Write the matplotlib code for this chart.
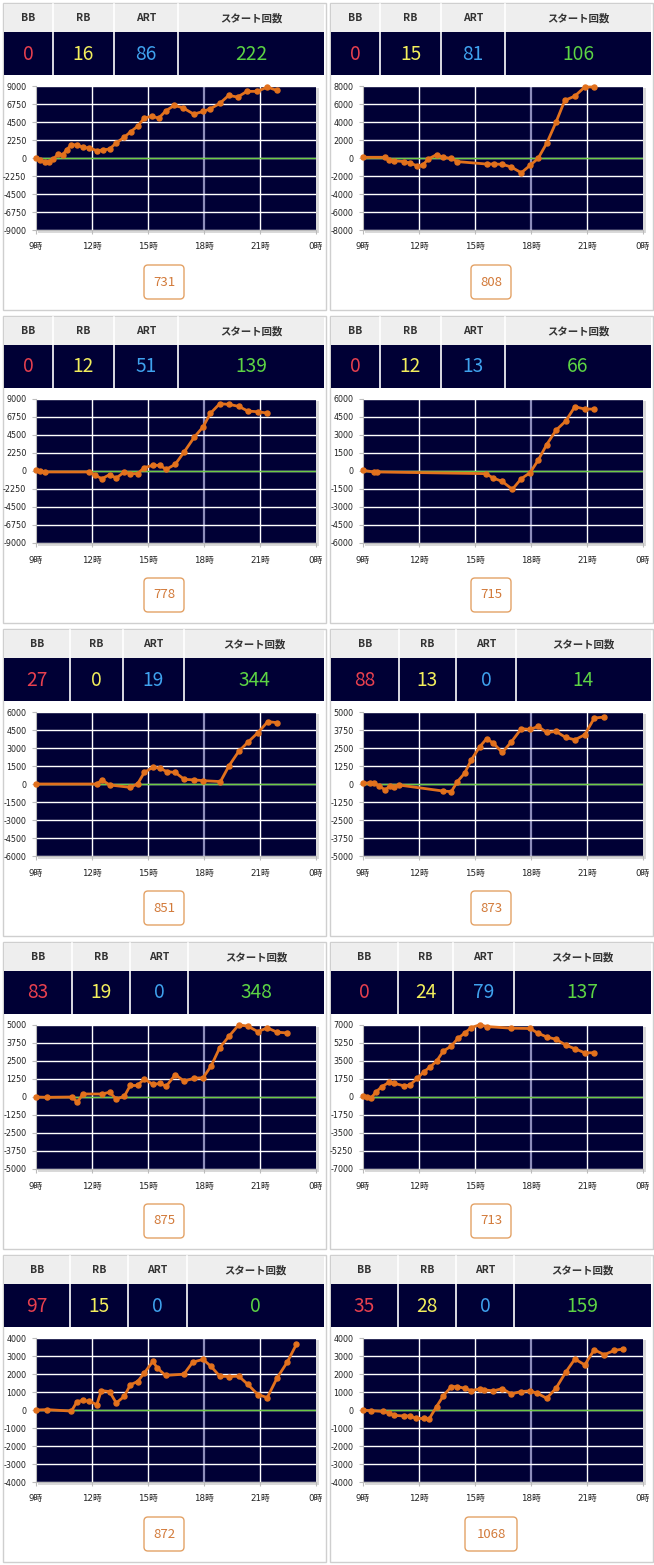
import matplotlib.pyplot as plt
from matplotlib.patches import Rectangle, FancyBboxPatch
import numpy as np

plt.rcParams['font.family'] = ['DejaVu Sans', 'Noto Sans CJK JP']

# header numbers per machine
bb = [0, 0, 0, 0, 27, 88, 83, 0, 97, 35]
rb = [16, 15, 12, 12, 0, 13, 19, 24, 15, 28]
art = [86, 81, 51, 13, 19, 0, 0, 79, 0, 0]
starts = [222, 106, 139, 66, 344, 14, 348, 137, 0, 159]
machine_no = [731, 808, 778, 715, 851, 873, 875, 713, 872, 1068]
y_max = [9000, 8000, 9000, 6000, 6000, 5000, 5000, 7000, 4000, 4000]

# difference graphs: hour of day / coins
hours_1 = [9.0, 9.2, 9.5, 9.7, 9.93, 10.2, 10.43, 10.65, 10.9, 11.2, 11.5, 11.86, 12.26, 12.58,
           12.94, 13.3, 13.73, 14.08, 14.44, 14.8, 15.2, 15.57, 15.96, 16.4, 16.87, 17.45, 17.95,
           18.34, 18.84, 19.32, 19.8, 20.3, 20.85, 21.4, 21.9]
diff_1 = [0, -300, -550, -450, -100, 500, 400, 1050, 1670, 1630, 1340, 1250, 920, 1000,
          1130, 1880, 2600, 3300, 3970, 4980, 5230, 4980, 5900, 6570, 6280, 5480, 5820,
          6150, 6820, 7820, 7620, 8330, 8330, 8870, 8450]

hours_2 = [9.0, 10.2, 10.38, 10.65, 11.2, 11.5, 11.9, 12.2, 12.5, 12.94, 13.3, 13.73, 14.05,
           15.62, 16.0, 16.46, 16.94, 17.48, 17.95, 18.38, 18.85, 19.34, 19.81, 20.35, 20.88, 21.39]
diff_2 = [80, 80, -220, -300, -400, -560, -860, -780, -110, 370, 80, -40, -400,
          -670, -670, -700, -1000, -1640, -820, -40, 1670, 3980, 6400, 6880, 7890, 7890]

hours_3 = [9.0, 9.2, 9.48, 11.86, 12.17, 12.53, 12.94, 13.3, 13.73, 14.05, 14.44, 14.8, 15.26,
           15.62, 15.98, 16.46, 16.94, 17.48, 17.95, 18.34, 18.84, 19.34, 19.86, 20.35, 20.88, 21.39]
diff_3 = [80, -40, -120, -120, -540, -960, -460, -880, -120, -330, -330, 420, 710,
          710, 210, 840, 2390, 4230, 5520, 7200, 8410, 8330, 8080, 7490, 7410, 7240]

hours_4 = [9.0, 9.57, 9.75, 15.57, 15.98, 16.46, 17.0, 17.48, 17.95, 18.38, 18.84, 19.34,
           19.86, 20.35, 20.88, 21.39]
diff_4 = [60, -80, -80, -220, -590, -870, -1530, -640, -140, 890, 2200, 3400,
          4160, 5360, 5160, 5160]

hours_5 = [9.0, 12.26, 12.53, 12.94, 14.05, 14.44, 14.8, 15.26, 15.62, 16.0, 16.46, 16.94,
           17.48, 17.95, 18.88, 19.34, 19.86, 20.35, 20.88, 21.42, 21.92]
diff_5 = [0, 0, 340, -80, -280, 0, 960, 1400, 1320, 1040, 960, 390,
          340, 280, 200, 1520, 2720, 3480, 4270, 5200, 5110]

hours_6 = [9.0, 9.39, 9.6, 9.84, 10.2, 10.43, 10.65, 10.92, 13.3, 13.73, 14.05, 14.44, 14.8,
           15.26, 15.62, 15.98, 16.46, 16.94, 17.48, 17.95, 18.38, 18.84, 19.34, 19.86, 20.35,
           20.88, 21.39, 21.92]
diff_6 = [50, 90, 50, -120, -420, -120, -190, -70, -490, -530, 160, 740, 1670,
          2600, 3140, 2840, 2190, 2910, 3840, 3790, 4000, 3580, 3650, 3230, 3070,
          3420, 4580, 4650]

hours_7 = [9.0, 9.6, 10.92, 11.22, 11.5, 12.53, 12.94, 13.3, 13.73, 14.05, 14.44, 14.8, 15.26,
           15.62, 15.98, 16.46, 16.94, 17.48, 17.95, 18.38, 18.84, 19.34, 19.86, 20.35, 20.88,
           21.39, 21.92, 22.46]
diff_7 = [0, -20, 0, -370, 210, 210, 330, -140, 50, 800, 800, 1260, 870,
          940, 750, 1550, 1100, 1310, 1330, 2150, 3420, 4220, 5010, 4920, 4540,
          4800, 4500, 4450]

hours_8 = [9.0, 9.2, 9.43, 9.71, 10.02, 10.38, 10.65, 11.2, 11.5, 11.9, 12.26, 12.58, 12.94,
           13.3, 13.73, 14.08, 14.44, 14.8, 15.26, 15.62, 16.94, 17.95, 18.38, 18.84, 19.34,
           19.86, 20.35, 20.88, 21.39]
diff_8 = [100, 30, -100, 520, 1020, 1410, 1340, 1080, 1150, 1800, 2460, 2890, 3480,
          4460, 4950, 5700, 6200, 6750, 7020, 6850, 6690, 6660, 6200, 5840, 5610,
          5050, 4690, 4300, 4300]

hours_9 = [9.0, 9.6, 10.9, 11.2, 11.5, 11.86, 12.26, 12.5, 12.94, 13.3, 13.73, 14.05, 14.44,
           14.8, 15.26, 15.5, 15.94, 16.92, 17.4, 17.95, 18.38, 18.84, 19.34, 19.86, 20.35,
           20.88, 21.39, 21.92, 22.46, 22.95]
diff_9 = [0, 20, -60, 470, 530, 480, 300, 1080, 1020, 390, 760, 1400, 1580,
          2050, 2700, 2330, 1920, 1990, 2660, 2810, 2420, 1880, 1860, 1880, 1420,
          860, 690, 1790, 2660, 3650]

hours_10 = [9.0, 9.43, 10.05, 10.38, 10.65, 11.2, 11.5, 11.86, 12.26, 12.53, 12.94, 13.3, 13.73,
            14.05, 14.44, 14.8, 15.26, 15.5, 15.98, 16.46, 16.94, 17.44, 17.95, 18.34, 18.84,
            19.34, 19.86, 20.35, 20.88, 21.39, 21.92, 22.46, 22.95]
diff_10 = [0, -40, -80, -150, -300, -330, -330, -470, -470, -520, 190, 780, 1300,
           1300, 1210, 1080, 1170, 1120, 1060, 1190, 890, 1020, 1060, 930, 650,
           1210, 2100, 2830, 2510, 3350, 3070, 3310, 3390]

hours = [hours_1, hours_2, hours_3, hours_4, hours_5, hours_6, hours_7, hours_8, hours_9, hours_10]
diffs = [diff_1, diff_2, diff_3, diff_4, diff_5, diff_6, diff_7, diff_8, diff_9, diff_10]

x_ticks = [9, 12, 15, 18, 21, 24]
x_labels = ['9時', '12時', '15時', '18時', '21時', '0時']
col_names = ['BB', 'RB', 'ART', 'スタート回数']
value_colors = ['#e8404f', '#f2ee5c', '#3fa2ee', '#5cd444']

# column dividers (panel-local pixels) for each header table
col_edges = [[4, 53, 114, 178, 324], [4, 53, 114, 178, 324],
             [4, 53, 114, 178, 324], [4, 53, 114, 178, 324],
             [4, 70, 123, 184, 324], [4, 72, 129, 189, 324],
             [4, 72, 130, 188, 324], [4, 71, 126, 187, 324],
             [4, 70, 128, 187, 324], [4, 71, 129, 187, 324]]

W, H = 654, 1565
NAVY = '#000035'
cjk = ['Noto Sans CJK JP', 'DejaVu Sans']

fig = plt.figure(figsize=(W / 100, H / 100), dpi=100)
bg = fig.add_axes([0, 0, 1, 1])
bg.set_xlim(0, W)
bg.set_ylim(H, 0)
bg.axis('off')

for i in range(10):
    ox = (i % 2) * 327
    oy = (i // 2) * 313
    edges = col_edges[i]

    # panel frame + header table
    bg.add_patch(Rectangle((ox + 3, oy + 3), 323, 307, fc='white', ec='#cfcfcf', lw=1))
    bg.add_patch(Rectangle((ox + 4, oy + 4), 320, 28, fc='#eeeeee', ec='none'))
    bg.add_patch(Rectangle((ox + 4, oy + 32), 320, 43, fc=NAVY, ec='none'))
    for e in edges[1:-1]:
        bg.plot([ox + e, ox + e], [oy + 4, oy + 75], color='white', lw=1.2)
    vals = [bb[i], rb[i], art[i], starts[i]]
    for k in range(4):
        cx = ox + (edges[k] + edges[k + 1]) / 2
        bg.text(cx, oy + 18, col_names[k], ha='center', va='center', fontsize=7.5,
                fontweight='bold', color='#333333', family=cjk)
        bg.text(cx, oy + 54, str(vals[k]), ha='center', va='center', fontsize=13.8,
                color=value_colors[k], family=cjk)

    # soft shadow behind plot area
    bg.add_patch(Rectangle((ox + 38, oy + 88), 281, 145, fc='#d9d9d9', ec='none'))

    # machine number box
    bw = 4 + 12 * len(str(machine_no[i]))
    bg.add_patch(FancyBboxPatch((ox + 164 - bw / 2, oy + 265), bw, 34,
                                boxstyle='round,pad=0,rounding_size=4',
                                fc='white', ec='#e3a266', lw=1))
    bg.text(ox + 164, oy + 282, str(machine_no[i]), ha='center', va='center',
            fontsize=9.5, color='#d27a3a', family=cjk)

    # difference chart
    ax = fig.add_axes([(ox + 36) / W, 1 - (oy + 230) / H, 280 / W, 144 / H])
    ax.set_facecolor(NAVY)
    m = y_max[i]
    yt = np.linspace(-m, m, 9)
    ax.set_xlim(9, 24)
    ax.set_ylim(-m, m)
    ax.set_yticks(yt)
    ax.set_yticklabels([f'{int(v)}' for v in yt])
    ax.set_xticks(x_ticks)
    ax.set_xticklabels(x_labels)
    ax.grid(axis='y', color='white', lw=1)
    for xv, c, lw in [(12, 'white', 1), (15, 'white', 1), (18, '#8d8dbb', 1.6), (21, 'white', 1)]:
        ax.axvline(xv, color=c, lw=lw, zorder=1)
    ax.axhline(0, color='#6ccb45', lw=1, zorder=2)
    for s in ['top', 'right']:
        ax.spines[s].set_visible(False)
    for s in ['left', 'bottom']:
        ax.spines[s].set_color('#bbbbbb')
    ax.tick_params(axis='y', length=3, color='#bbbbbb', labelsize=5.8, labelcolor='#222222', pad=4)
    ax.tick_params(axis='x', length=3, color='#bbbbbb', labelsize=6.3, labelcolor='#222222', pad=6)
    ax.plot(hours[i], diffs[i], color='#e2711d', lw=2.0, marker='o', ms=3.6,
            mec='#e2711d', zorder=3, clip_on=False)

fig.savefig('out.png', dpi=100)
